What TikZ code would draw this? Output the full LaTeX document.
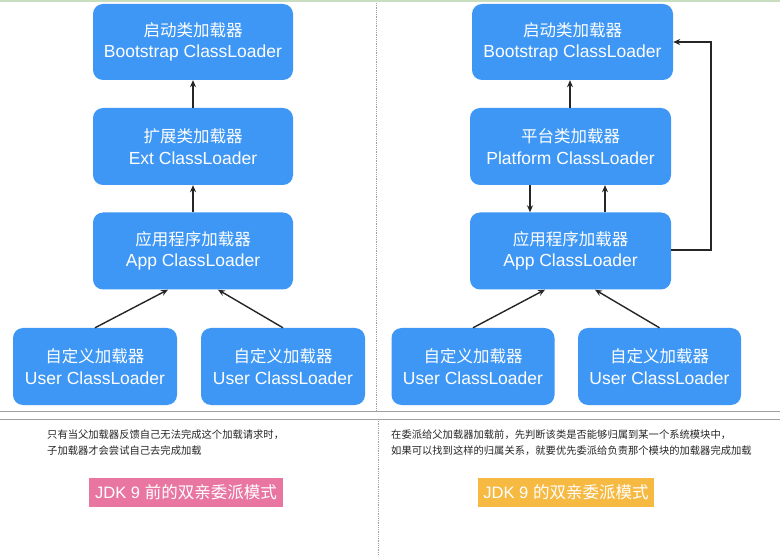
\documentclass[tikz,border=0pt]{standalone}
\usepackage{fontspec}
\setmainfont{Liberation Sans}
\newfontfamily\cjk{Noto Sans CJK SC}
\usetikzlibrary{arrows.meta}
\definecolor{boxblue}{RGB}{62,151,245}
\definecolor{pinkc}{RGB}{232,118,160}
\definecolor{yellowc}{RGB}{246,185,66}
\definecolor{sepgray}{RGB}{160,160,160}
\definecolor{topgreen}{RGB}{200,222,190}
\newcommand{\cn}[1]{{\cjk\fontsize{16.5}{21}\selectfont #1}}
\tikzset{
  loader/.style={fill=boxblue, draw=none, rounded corners=10pt, text=white, align=center, font=\fontsize{17.5}{21.5}\selectfont, inner sep=0pt},
  conn/.style={draw=black!85, line width=1.4pt, -{Stealth[length=7pt,width=6pt]}},
  note/.style={font=\cjk\fontsize{10.3}{16}\selectfont, align=left, anchor=north west, inner sep=0pt, text=black!85},
  tag/.style={text=white, font=\fontsize{16.5}{20}\selectfont, inner sep=0pt, anchor=center}
}
\begin{document}
\begin{tikzpicture}[x=1pt,y=-1pt]
\useasboundingbox (0,0) rectangle (780,556);
\fill[white] (0,0) rectangle (780,556);
% top line
\draw[topgreen, line width=1.5pt] (0,1) -- (780,1);
% separators
\draw[sepgray, line width=0.8pt, densely dotted] (376,3) -- (376,411);
\draw[sepgray, line width=0.8pt, densely dotted] (378,419) -- (378,556);
\draw[sepgray, line width=1pt] (0,411) -- (780,411);
\draw[sepgray, line width=1pt] (0,419) -- (780,419);

% left column
\node[loader, minimum width=200pt, minimum height=76pt] (lboot) at (193,42) {\cn{启动类加载器}\\Bootstrap ClassLoader};
\node[loader, minimum width=200pt, minimum height=77pt] (lext) at (193,146.5) {\cn{扩展类加载器}\\Ext ClassLoader};
\node[loader, minimum width=200pt, minimum height=77pt] (lapp) at (193,251) {\cn{应用程序加载器}\\App ClassLoader};
\node[loader, minimum width=164pt, minimum height=77pt] (lu1) at (95,366.5) {\cn{自定义加载器}\\User ClassLoader};
\node[loader, minimum width=164pt, minimum height=77pt] (lu2) at (283,366.5) {\cn{自定义加载器}\\User ClassLoader};

\draw[conn] (lext.north) -- (lboot.south);
\draw[conn] (lapp.north) -- (lext.south);
\draw[conn] (lu1.north) -- (lapp.south -| 168,0);
\draw[conn] (lu2.north) -- (lapp.south -| 218,0);

% right column
\node[loader, minimum width=201pt, minimum height=76pt] (rboot) at (572.5,42) {\cn{启动类加载器}\\Bootstrap ClassLoader};
\node[loader, minimum width=201pt, minimum height=77pt] (rplat) at (570.5,146.5) {\cn{平台类加载器}\\Platform ClassLoader};
\node[loader, minimum width=201pt, minimum height=77pt] (rapp) at (570.5,251) {\cn{应用程序加载器}\\App ClassLoader};
\node[loader, minimum width=163pt, minimum height=77pt] (ru1) at (473,366.5) {\cn{自定义加载器}\\User ClassLoader};
\node[loader, minimum width=163pt, minimum height=77pt] (ru2) at (659.5,366.5) {\cn{自定义加载器}\\User ClassLoader};

\draw[conn] (rplat.north -| 570,0) -- (rboot.south -| 570,0);
\draw[conn] (rplat.south -| 530,0) -- (rapp.north -| 530,0);
\draw[conn] (rapp.north -| 605,0) -- (rplat.south -| 605,0);
\draw[conn] (ru1.north) -- (rapp.south -| 545,0);
\draw[conn] (ru2.north) -- (rapp.south -| 595,0);
\coordinate (loopA) at (711,250);
\coordinate (loopB) at (711,42);
\draw[conn] (rapp.east |- loopA) -- (loopA) -- (loopB) -- (rboot.east |- loopB);

% bottom notes
\node[note] (lnote) at (47,430) {只有当父加载器反馈自己无法完成这个加载请求时，\\子加载器才会尝试自己去完成加载};
\node[note] (rnote) at (391,430) {在委派给父加载器加载前，先判断该类是否能够归属到某一个系统模块中，\\如果可以找到这样的归属关系，就要优先委派给负责那个模块的加载器完成加载};

\fill[pinkc] (89,478) rectangle (283,507);
\node[tag] (ltag) at (186,492.5) {JDK 9 {\cjk\fontsize{16.5}{20}\selectfont 前的双亲委派模式}};
\fill[yellowc] (478,478) rectangle (654,507);
\node[tag] (rtag) at (566,492.5) {JDK 9 {\cjk\fontsize{16.5}{20}\selectfont 的双亲委派模式}};
\end{tikzpicture}
\end{document}
